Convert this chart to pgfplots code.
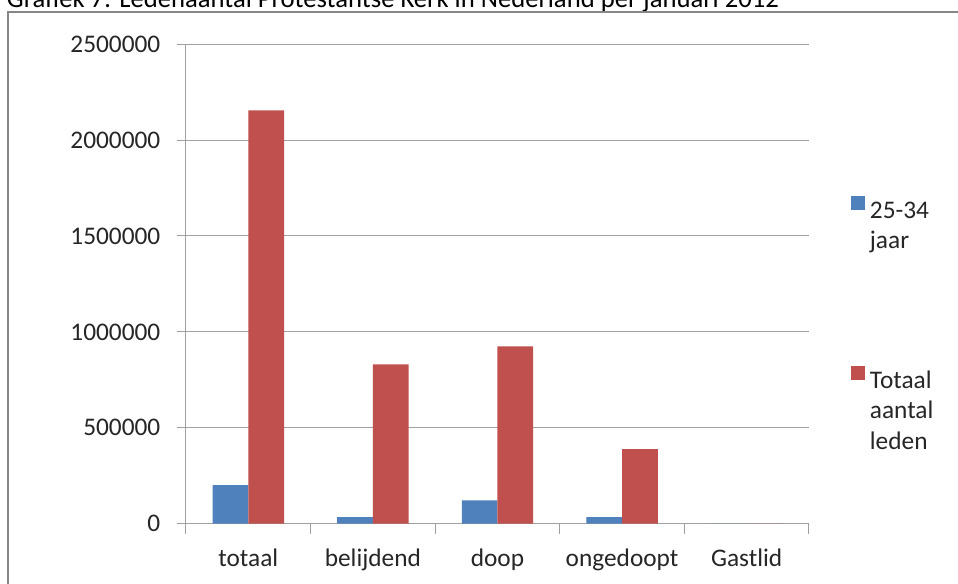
\documentclass[border=0pt]{standalone}
\usepackage{fontspec}
\setmainfont{Carlito}
\usepackage{pgfplots}
\pgfplotsset{compat=1.18}

\definecolor{xlblue}{HTML}{4F81BD}
\definecolor{xlred}{HTML}{C0504D}
\definecolor{gridgray}{HTML}{A0A0A0}
\definecolor{framegray}{HTML}{868686}

\begin{document}
\fontsize{19}{23}\selectfont
\begin{tikzpicture}
% page = 958 x 583 px, 1 px = 0.75pt
\path[use as bounding box, clip] (0,0) rectangle (718.5pt,437.25pt);
\fill[white] (0,0) rectangle (718.5pt,437.25pt);
% title, cut off at the top as in the scan
\node[anchor=base west, inner sep=0pt, font=\fontsize{20}{24}\selectfont] at (5pt,431.5pt)
  {Grafiek 7: Ledenaantal Protestantse Kerk in Nederland per januari 2012};
\draw[framegray, line width=1.2pt] (6pt,-5pt) -- (6pt,428.25pt) -- (725pt,428.25pt);

\begin{axis}[
    at={(139.5pt,44.5pt)}, anchor=south west,
    scale only axis,
    width=467.25pt, height=359.6pt,
    ybar=0pt, bar width=26.8pt,
    xmin=-0.5, xmax=4.5,
    ymin=0, ymax=2500000,
    xtick={0,1,2,3,4},
    xticklabels={totaal,belijdend,doop,ongedoopt,Gastlid},
    minor xtick={-0.5,0.5,1.5,2.5,3.5,4.5},
    ytick={0,500000,1000000,1500000,2000000,2500000},
    scaled y ticks=false,
    yticklabel style={/pgf/number format/fixed, /pgf/number format/1000 sep={}, xshift=-6pt},
    xticklabel style={yshift=-6pt},
    /pgf/number format/assume math mode=true,
    axis lines*=left,
    axis line style={gridgray, line width=0.75pt},
    ymajorgrids,
    grid style={gridgray, line width=0.75pt},
    tick align=outside,
    major tick length=6.75pt, minor tick length=7.5pt,
    major x tick style={draw=none},
    minor x tick style={gridgray, line width=0.75pt},
    y tick style={gridgray, line width=0.75pt},
    tick label style={font=\fontsize{19}{23}\selectfont, text=black!85},
    legend cell align=left,
    legend style={at={(1.067,0.683)}, anchor=north west, draw=none, fill=none,
        inner sep=0pt, row sep=108pt,
        nodes={inner sep=0pt, font=\fontsize{19}{23}\selectfont, text=black!85}},
    legend image code/.code={\fill[#1] (0pt,1.3pt) rectangle (10.2pt,11.5pt);},
]
\addplot[fill=xlblue, draw=none] coordinates {
    (0,201000) (1,34400) (2,121500) (3,34400) (4,0)
};
\addlegendentry{\hspace{4pt}\parbox[t]{60pt}{25-34\\jaar}}
\addplot[fill=xlred, draw=none] coordinates {
    (0,2155000) (1,830000) (2,924000) (3,389000) (4,0)
};
\addlegendentry{\hspace{4pt}\parbox[t]{60pt}{Totaal\\aantal\\leden}}
\end{axis}
\end{tikzpicture}
\end{document}
